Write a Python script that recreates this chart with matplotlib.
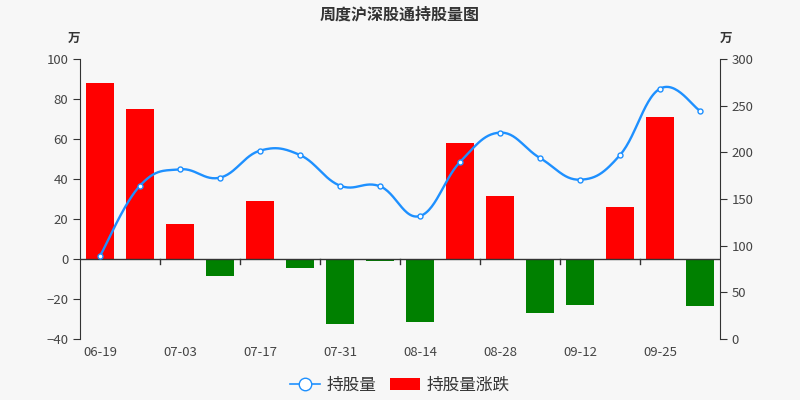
import numpy as np
import matplotlib.pyplot as plt
from matplotlib.lines import Line2D
from matplotlib.patches import Patch

plt.rcParams['font.family'] = ['Noto Sans CJK SC', 'DejaVu Sans']

dates = ['06-19', '06-26', '07-03', '07-10', '07-17', '07-24', '07-31', '08-07',
         '08-14', '08-21', '08-28', '09-04', '09-12', '09-18', '09-25', '10-09']
change = [88.0, 75.0, 17.5, -8.7, 29.0, -4.7, -32.3, -1.2,
          -31.7, 57.8, 31.7, -27.2, -22.8, 26.0, 71.2, -23.3]
holding = [88.9, 164.3, 181.8, 172.9, 201.8, 197.1, 164.3, 163.6,
           131.8, 189.6, 221.1, 193.9, 170.7, 197.1, 268.2, 244.6]


def smooth_curve(x, y, s=0.2, n=30):
    # bezier segments with catmull-rom style control points
    x = np.asarray(x, float)
    y = np.asarray(y, float)
    px, py = [], []
    for i in range(len(x) - 1):
        i0 = max(i - 1, 0)
        i3 = min(i + 2, len(x) - 1)
        c1 = (x[i] + (x[i + 1] - x[i0]) * s, y[i] + (y[i + 1] - y[i0]) * s)
        c2 = (x[i + 1] - (x[i3] - x[i]) * s, y[i + 1] - (y[i3] - y[i]) * s)
        t = np.linspace(0, 1, n)
        bx = (1-t)**3*x[i] + 3*(1-t)**2*t*c1[0] + 3*(1-t)*t**2*c2[0] + t**3*x[i+1]
        by = (1-t)**3*y[i] + 3*(1-t)**2*t*c1[1] + 3*(1-t)*t**2*c2[1] + t**3*y[i+1]
        px.extend(bx)
        py.extend(by)
    return px, py


bg = '#f7f7f7'
fig = plt.figure(figsize=(8, 4), dpi=100, facecolor=bg)
ax = fig.add_axes([0.1, 0.1525, 0.8, 0.7])
ax.set_facecolor(bg)
x = np.arange(len(dates))
colors = ['#ff0000' if v >= 0 else '#008000' for v in change]
ax.bar(x, change, width=0.7, color=colors, zorder=2)
ax.set_xlim(-0.5, len(dates) - 0.5)
ax.set_ylim(-40, 100)
ax.set_yticks(range(-40, 101, 20))
ax.set_xticks(x[::2])
ax.set_xticklabels(dates[::2])
ax.tick_params(axis='x', length=0, pad=5, labelsize=9.5, labelcolor='#444444')
ax.tick_params(axis='y', length=5, color='#333333', labelsize=9.5, labelcolor='#444444')
for sp in ['top', 'right', 'bottom']:
    ax.spines[sp].set_visible(False)
ax.spines['left'].set_color('#333333')

# zero axis line with ticks between categories
ax.axhline(0, color='#333333', lw=1, zorder=3)
for b in np.arange(1.5, len(dates) - 1, 2):
    ax.plot([b, b], [0, -2.5], color='#333333', lw=1, zorder=3, clip_on=False)

ax2 = ax.twinx()
ax2.set_ylim(0, 300)
ax2.set_yticks(range(0, 301, 50))
ax2.tick_params(axis='y', length=5, color='#333333', labelsize=9.5, labelcolor='#444444')
for sp in ['top', 'left', 'bottom']:
    ax2.spines[sp].set_visible(False)
ax2.spines['right'].set_color('#333333')
sx, sy = smooth_curve(x, holding)
ax2.plot(sx, sy, color='#1e90ff', lw=1.7, zorder=4)
ax2.plot(x, holding, 'o', ms=3.6, mfc='white', mec='#1e90ff', mew=1, zorder=5)

fig.text(0.5, 0.965, '周度沪深股通持股量图', ha='center', va='center',
         fontsize=11.5, fontweight='bold', color='#333333')
fig.text(0.1, 0.905, '万', ha='right', va='center', fontsize=9, fontweight='bold', color='#333333')
fig.text(0.9, 0.905, '万', ha='left', va='center', fontsize=9, fontweight='bold', color='#333333')

h1 = Line2D([], [], color='#1e90ff', lw=1.2, marker='o', ms=9, mfc='white', mec='#1e90ff')
h2 = Patch(facecolor='#ff0000')
fig.legend([h1, h2], ['持股量', '持股量涨跌'], loc='center', bbox_to_anchor=(0.5, 0.037),
           ncol=2, frameon=False, fontsize=12, handlelength=1.8, handletextpad=0.4,
           columnspacing=0.8, labelcolor='#333333')

fig.savefig('out.png', dpi=100, facecolor=bg)
